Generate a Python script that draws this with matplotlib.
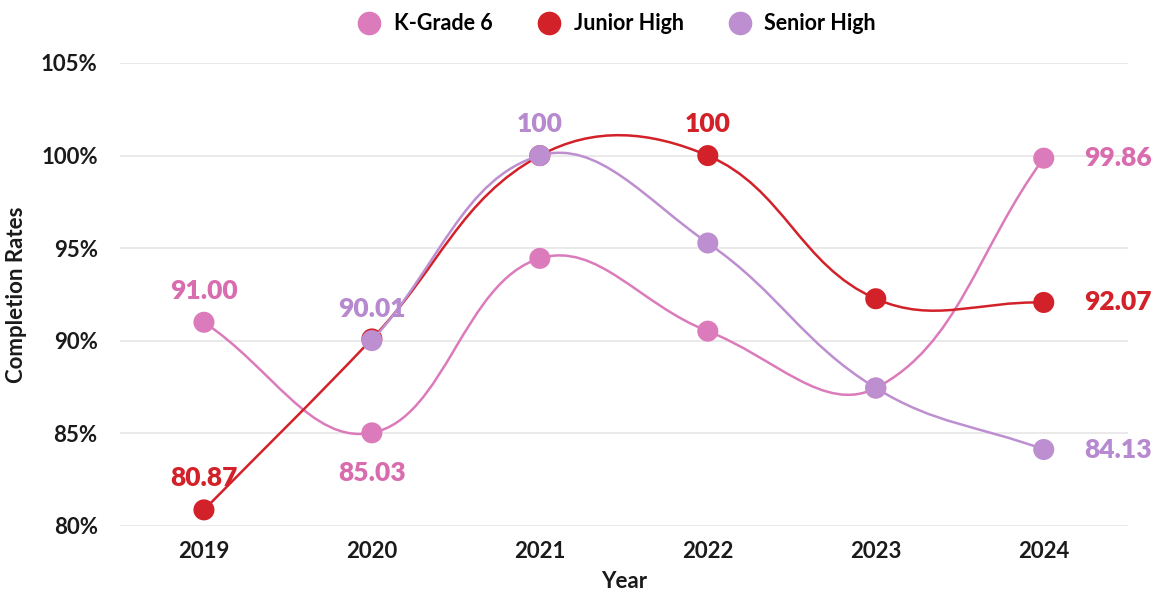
import numpy as np
import matplotlib.pyplot as plt
from matplotlib.path import Path
from matplotlib.patches import PathPatch
from matplotlib.lines import Line2D

plt.rcParams['font.family'] = ['Lato', 'DejaVu Sans']
plt.rcParams['font.weight'] = 'bold'

years = ['2019', '2020', '2021', '2022', '2023', '2024']
k_grade = [91.00, 85.03, 94.45, 90.52, 87.45, 99.86]
junior = [80.87, 90.10, 100.0, 100.0, 92.27, 92.07]
senior = [None, 90.01, 100.0, 95.28, 87.45, 84.13]

k_labels = {0: '91.00', 1: '85.03', 5: '99.86'}
j_labels = {0: '80.87', 3: '100', 5: '92.07'}
s_labels = {1: '90.01', 2: '100', 5: '84.13'}

c_k = '#dc7bbb'
c_j = '#d3212a'
c_s = '#bd8fd0'
c_k_txt = '#d96cae'
c_s_txt = '#b78ad0'

fig = plt.figure(figsize=(11.59, 5.92), dpi=100)
ax = fig.add_axes([0.1035, 0.1115, 0.8695, 0.7821])

# pixel-ish scaling so the tension behaves like on screen
sx, sy = 168.0, 18.55


def spline_path(xs, ys, t=0.4):
    px = np.array(xs, float) * sx
    py = np.array(ys, float) * sy
    n = len(px)
    cp_prev, cp_next = [], []
    for i in range(n):
        prev = i - 1 if i > 0 else i
        nxt = i + 1 if i < n - 1 else i
        d01 = np.hypot(px[i] - px[prev], py[i] - py[prev])
        d12 = np.hypot(px[nxt] - px[i], py[nxt] - py[i])
        s01 = d01 / (d01 + d12) if d01 + d12 else 0
        s12 = d12 / (d01 + d12) if d01 + d12 else 0
        fa, fb = t * s01, t * s12
        dx, dy = px[nxt] - px[prev], py[nxt] - py[prev]
        cp_prev.append((px[i] - fa * dx, py[i] - fa * dy))
        cp_next.append((px[i] + fb * dx, py[i] + fb * dy))
    verts = [(px[0] / sx, py[0] / sy)]
    codes = [Path.MOVETO]
    for i in range(n - 1):
        verts += [(cp_next[i][0] / sx, cp_next[i][1] / sy),
                  (cp_prev[i + 1][0] / sx, cp_prev[i + 1][1] / sy),
                  (px[i + 1] / sx, py[i + 1] / sy)]
        codes += [Path.CURVE4] * 3
    return Path(verts, codes)


def draw_series(vals, color, z):
    xs = [i for i, v in enumerate(vals) if v is not None]
    ys = [v for v in vals if v is not None]
    ax.add_patch(PathPatch(spline_path(xs, ys), fill=False, edgecolor=color,
                           lw=1.8, zorder=z, capstyle='round', clip_on=False))
    ax.scatter(xs, ys, s=230, color=color, zorder=z + 0.5, edgecolors='none', clip_on=False)


draw_series(k_grade, c_k, 3)
draw_series(junior, c_j, 4)
draw_series(senior, c_s, 5)

lab_kw = dict(fontsize=19, fontweight='heavy', zorder=10, textcoords='offset points')


def put_labels(vals, labels, color, below=()):
    for i, txt in labels.items():
        if i == len(vals) - 1:
            ax.annotate(txt, (i, vals[i]), xytext=(29, 0), ha='left', va='center',
                        color=color, **lab_kw)
        elif i in below:
            ax.annotate(txt, (i, vals[i]), xytext=(0, -20), ha='center', va='top',
                        color=color, **lab_kw)
        else:
            ax.annotate(txt, (i, vals[i]), xytext=(0, 14), ha='center', va='bottom',
                        color=color, **lab_kw)


put_labels(k_grade, k_labels, c_k_txt, below=(1,))
put_labels(junior, j_labels, c_j)
put_labels(senior, s_labels, c_s_txt)

ax.set_xlim(-0.5, 5.5)
ax.set_ylim(80, 105)
ax.set_xticks(range(len(years)))
ax.set_xticklabels(years)
ax.set_yticks([80, 85, 90, 95, 100, 105])
ax.set_yticklabels(['80%', '85%', '90%', '95%', '100%', '105%'])
ax.tick_params(axis='both', length=0, labelsize=16, colors='#1a1a1a')
ax.tick_params(axis='x', pad=11)
ax.tick_params(axis='y', pad=16)
ax.grid(axis='y', color='#e6e6e6', lw=1.2)
ax.set_axisbelow(True)
for s in ax.spines.values():
    s.set_visible(False)

ax.set_xlabel('Year', fontsize=16, fontweight='bold', color='#1a1a1a', labelpad=6)
ax.set_ylabel('Completion Rates', fontsize=16, fontweight='bold', color='#1a1a1a', labelpad=10)

handles = [Line2D([], [], marker='o', ls='none', ms=16, color=c) for c in (c_k, c_j, c_s)]
fig.legend(handles, ['K-Grade 6', 'Junior High', 'Senior High'], loc='upper center',
           bbox_to_anchor=(0.528, 1.01), ncol=3, frameon=False, fontsize=15.5,
           handletextpad=0.15, columnspacing=1.6)

fig.savefig('out.png', dpi=100)
